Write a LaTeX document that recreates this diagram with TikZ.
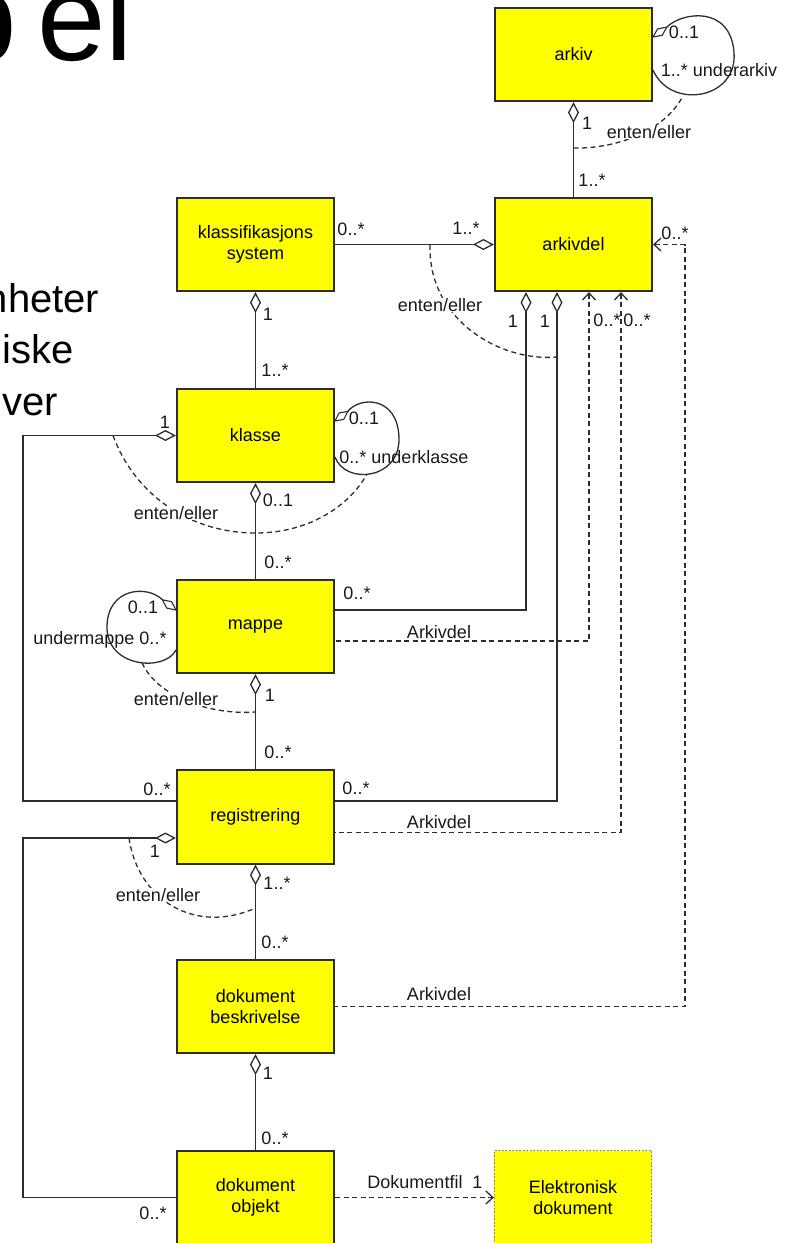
\documentclass[tikz,border=0pt]{standalone}
\usepackage{fontspec}
\setmainfont{Liberation Sans}
\usetikzlibrary{arrows.meta}
\definecolor{boxyellow}{RGB}{255,255,0}
\definecolor{ink}{RGB}{45,45,45}
\tikzset{
  dia/.tip={Diamond[fill=white,length=21pt,width=11pt]},
  barb/.tip={Straight Barb[length=7pt,width=13pt]},
  umlbox/.style={draw=ink, line width=1.6pt, fill=boxyellow, minimum width=157.5pt,
    minimum height=93.5pt, align=center, inner sep=0pt, text=black,
    font=\fontsize{18}{21.5}\selectfont},
  extbox/.style={umlbox, draw=black!45, line width=0.8pt, dash pattern=on 2pt off 1.5pt},
  conn/.style={draw=ink, line width=1.3pt},
  loopdia/.style={draw=ink, line width=1.1pt, fill=white, line join=miter},
  dashline/.style={conn, dash pattern=on 5pt off 3.5pt},
  lbl/.style={inner sep=0.5pt, text=black!90, font=\fontsize{18}{20}\selectfont},
  wlbl/.style={lbl, fill=white},
  slide/.style={inner sep=0pt, text=black},
  bigslide/.style={slide, font=\fontsize{123}{123}\selectfont},
  sideslide/.style={slide, anchor=base east, font=\fontsize{40}{44}\selectfont}
}
\begin{document}
\begin{tikzpicture}[x=1pt,y=-1pt]
\useasboundingbox (0,0) rectangle (785,1243);
% slide text
\node[bigslide, anchor=base east] (titleb) at (17.5,60) {b};
\node[bigslide, anchor=base east] (titleel) at (133,60) {el};
\node[sideslide] (t1) at (99.5,312) {nheter};
\node[sideslide] (t2) at (74,363) {iske};
\node[sideslide] (t3) at (58.5,415) {ver};

% self loops (behind the boxes)
\draw[conn] (666.8,27.1) .. controls (682,12) and (730,5) .. (734,52) .. controls (738,100) and (670,110) .. (653,70);
\draw[loopdia] (653,37) -- (657.6,28.9) -- (666.8,27.1) -- (662.2,35.3) -- cycle;
\draw[conn] (347.8,411.4) .. controls (360,396) and (398,396) .. (399,438) .. controls (400,480) and (345,485) .. (335,457);
\draw[loopdia] (335,421) -- (339,413) -- (347.8,411.4) -- (343.8,419.4) -- cycle;
\draw[conn] (162.4,599.8) .. controls (148,585) and (108,587) .. (107,626) .. controls (106,668) and (165,672) .. (176,650);
\draw[loopdia] (176,610) -- (171.6,601.7) -- (162.4,599.8) -- (166.8,608.1) -- cycle;

% boxes
\node[umlbox] (arkiv) at (573.5,54.5) {arkiv};
\node[umlbox] (arkivdel) at (573.5,244.5) {arkivdel};
\node[umlbox] (klassif) at (255.5,244.5) {klassifikasjons\\system};
\node[umlbox] (klasse) at (255.5,435.5) {klasse};
\node[umlbox] (mappe) at (255.5,626.5) {mappe};
\node[umlbox] (reg) at (255.5,817) {registrering};
\node[umlbox] (dokb) at (255.5,1006.5) {dokument\\beskrivelse};
\node[umlbox] (doko) at (255.5,1197.5) {dokument\\objekt};
\node[extbox] (elek) at (573,1197.5) {Elektronisk\\dokument};

% enten/eller arcs
\draw[dashline] (573.5,148) .. controls (610,149) and (662,135) .. (683,96);
\draw[dashline] (430,245) .. controls (428,320) and (500,362) .. (557,357);
\draw[dashline] (113,435.5) .. controls (135,495) and (190,533) .. (255.5,533) .. controls (310,533) and (350,505) .. (367,474);
\draw[dashline] (142,663) .. controls (160,700) and (215,715) .. (255.5,712);
\draw[dashline] (129,838) .. controls (138,900) and (195,935) .. (255.5,908);

% associations
\draw[conn, {dia}-] (arkiv.south) -- (arkivdel.north);
\draw[conn, {dia}-] (arkivdel.west) -- (klassif.east);
\draw[conn, {dia}-] (klassif.south) -- (klasse.north);
\draw[conn, {dia}-] (klasse.south) -- (mappe.north);
\draw[conn, {dia}-] (mappe.south) -- (reg.north);
\draw[conn, {dia}-] (reg.south) -- (dokb.north);
\draw[conn, {dia}-] (dokb.south) -- (doko.north);
\draw[conn, {dia}-] (klasse.west) -- ++(-153,0) |- ([yshift=16pt]reg.west);
\draw[conn, {dia}-] ([yshift=-21pt]reg.west) -- ++(-153,0) |- (doko.west);
\draw[conn, {dia}-] ([xshift=-47.5pt]arkivdel.south) |- ([yshift=16.5pt]mappe.east);
\draw[conn, {dia}-] ([xshift=-16.5pt]arkivdel.south) |- ([yshift=16pt]reg.east);
\draw[dashline, {barb}-] ([xshift=15.5pt]arkivdel.south) |- ([yshift=-14.5pt]mappe.east);
\draw[dashline, {barb}-] ([xshift=47.5pt]arkivdel.south) |- ([yshift=-15.5pt]reg.east);
\draw[dashline, {barb}-] (arkivdel.east) -- ++(32,0) |- (dokb.east);
\draw[dashline, -{barb}] (doko.east) -- (elek.west);

% labels
\node[lbl] (m1) at (684,32) {0..1};
\node[lbl] (m2) at (719,70) {1..* underarkiv};
\node[wlbl] (e1) at (649,132) {enten/eller};
\node[lbl] (m3) at (587,123) {1};
\node[lbl] (m4) at (592,180) {1..*};
\node[lbl] (m5) at (351,229) {0..*};
\node[lbl] (m6) at (466,228) {1..*};
\node[wlbl] (e2) at (440,305) {enten/eller};
\node[lbl] (m7) at (513,321) {1};
\node[lbl] (m8) at (545,321) {1};
\node[lbl] (m9) at (607,320) {0..*};
\node[lbl] (m10) at (637,320) {0..*};
\node[lbl] (m11) at (675,233) {0..*};
\node[lbl] (m12) at (268,314) {1};
\node[lbl] (m13) at (275,370) {1..*};
\node[lbl] (m14) at (165,422) {1};
\node[lbl] (m15) at (364,418) {0..1};
\node[lbl] (m16) at (404,457) {0..* underklasse};
\node[lbl] (m17) at (278,500) {0..1};
\node[wlbl] (e3) at (176,513) {enten/eller};
\node[lbl] (m18) at (278,562) {0..*};
\node[lbl] (m19) at (357,593) {0..*};
\node[lbl] (m20) at (143,607) {0..1};
\node[lbl] (m21) at (100,640) {undermappe 0..*};
\node[lbl] (a1) at (439,632) {Arkivdel};
\node[lbl] (m22) at (270,695) {1};
\node[wlbl] (e4) at (176,699) {enten/eller};
\node[lbl] (m23) at (278,752) {0..*};
\node[lbl] (m24) at (157,789) {0..*};
\node[lbl] (m25) at (356,788) {0..*};
\node[lbl] (a2) at (439,822) {Arkivdel};
\node[lbl] (m26) at (155,851) {1};
\node[lbl] (m27) at (277,883) {1..*};
\node[wlbl] (e5) at (158,895) {enten/eller};
\node[lbl] (m28) at (275,942) {0..*};
\node[lbl] (a3) at (439,994) {Arkivdel};
\node[lbl] (m29) at (268,1073) {1};
\node[lbl] (m30) at (275,1138) {0..*};
\node[lbl] (m31) at (425,1182) {Dokumentfil\ \ 1};
\node[lbl] (m32) at (153,1213) {0..*};
\end{tikzpicture}
\end{document}
